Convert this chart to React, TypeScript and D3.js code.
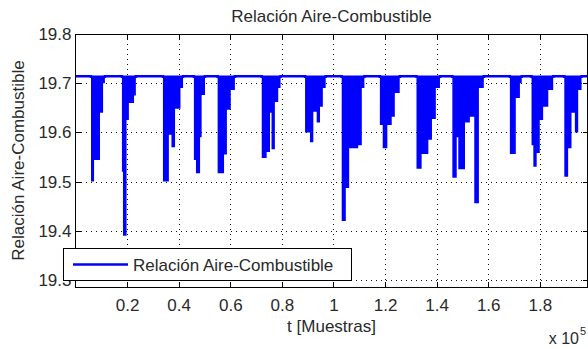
import { useEffect, useRef } from 'react';
import * as d3 from 'd3';

const width = 588;
const height = 349;

// eje x en unidades de 1e5 muestras
const xTicks = [0.2, 0.4, 0.6, 0.8, 1, 1.2, 1.4, 1.6, 1.8];
const yTicks = [19.3, 19.4, 19.5, 19.6, 19.7, 19.8];
const xDomain: [number, number] = [0, 1.985];
const yDomain: [number, number] = [19.2858, 19.8];

const nivelBase = 19.714;

// inicio de cada escalon (x 1e5 muestras) y valor minimo de la relacion en ese tramo
const tiempo = [
  0,
  0.060, 0.072, 0.095, 0.107, 0.114,
  0.180, 0.184, 0.198, 0.207, 0.227, 0.234,
  0.339, 0.362, 0.372, 0.386, 0.407, 0.417,
  0.459, 0.467, 0.483, 0.489, 0.502,
  0.551, 0.576, 0.587, 0.602, 0.618,
  0.722, 0.741, 0.754, 0.760, 0.773, 0.786, 0.795,
  0.890, 0.909, 0.922, 0.935, 0.948, 0.959, 0.970,
  1.032, 1.048, 1.061, 1.096, 1.110, 1.120,
  1.180, 1.191, 1.209, 1.226, 1.238, 1.257,
  1.322, 1.342, 1.368, 1.382, 1.397, 1.413,
  1.461, 1.478, 1.484, 1.510, 1.529, 1.546, 1.564, 1.583,
  1.684, 1.707, 1.723, 1.730,
  1.768, 1.775, 1.788, 1.800, 1.813, 1.833, 1.852,
  1.895, 1.910, 1.923, 1.936, 1.949, 1.962,
  1.985,
];
const relacion = [
  19.714,
  19.50, 19.544, 19.64, 19.70, 19.714,
  19.52, 19.39, 19.625, 19.66, 19.675, 19.714,
  19.50, 19.595, 19.57, 19.648, 19.69, 19.714,
  19.544, 19.517, 19.59, 19.676, 19.714,
  19.517, 19.555, 19.646, 19.686, 19.714,
  19.548, 19.56, 19.64, 19.566, 19.662, 19.69, 19.714,
  19.60, 19.58, 19.642, 19.62, 19.652, 19.69, 19.714,
  19.42, 19.487, 19.568, 19.574, 19.69, 19.714,
  19.615, 19.568, 19.615, 19.632, 19.68, 19.714,
  19.526, 19.556, 19.585, 19.627, 19.69, 19.714,
  19.508, 19.59, 19.525, 19.62, 19.632, 19.456, 19.69, 19.714,
  19.556, 19.67, 19.70, 19.714,
  19.574, 19.53, 19.558, 19.625, 19.652, 19.686, 19.714,
  19.51, 19.568, 19.64, 19.60, 19.686, 19.714,
  19.714,
];

const titulo = 'Relación Aire-Combustible';
const etiquetaY = 'Relación Aire-Combustible';
const etiquetaX = 't [Muestras]';
const leyenda = 'Relación Aire-Combustible';

const fuente = '"Liberation Sans", Arial, Helvetica, sans-serif';
const colorTexto = '#2a2a2a';

type Punto = { t: number; v: number };

const App = () => {
  const chartRef = useRef<SVGSVGElement | null>(null);

  useEffect(() => {
    const svg = d3.select(chartRef.current);
    svg.selectAll('*').remove();

    const left = 75.5, right = 587.5, top = 34, bottom = 287;

    const xScale = d3.scaleLinear().domain(xDomain).range([left, right]);
    const yScale = d3.scaleLinear().domain(yDomain).range([bottom, top]);

    const datos: Punto[] = tiempo.map((t, i) => ({ t, v: relacion[i] }));

    svg.append('rect').attr('width', width).attr('height', height).attr('fill', 'white');

    svg.append('clipPath').attr('id', 'zona')
      .append('rect')
      .attr('x', left).attr('y', top)
      .attr('width', right - left).attr('height', bottom - top);

    // rejilla punteada
    const grid = svg.append('g')
      .attr('stroke', '#111')
      .attr('stroke-width', 1)
      .attr('stroke-dasharray', '1 4')
      .attr('shape-rendering', 'crispEdges');
    grid.selectAll('line.gx').data(xTicks).join('line')
      .attr('class', 'gx')
      .attr('x1', d => Math.round(xScale(d)) + 0.5).attr('x2', d => Math.round(xScale(d)) + 0.5)
      .attr('y1', top).attr('y2', bottom);
    grid.selectAll('line.gy').data(yTicks.filter(d => d < 19.8)).join('line')
      .attr('class', 'gy')
      .attr('y1', d => Math.round(yScale(d)) + 0.5).attr('y2', d => Math.round(yScale(d)) + 0.5)
      .attr('x1', left).attr('x2', right);

    // senal
    const plot = svg.append('g').attr('clip-path', 'url(#zona)');
    plot.append('path')
      .datum(datos)
      .attr('fill', '#0000ff')
      .attr('d', d3.area<Punto>()
        .curve(d3.curveStepAfter)
        .x(d => xScale(d.t))
        .y0(yScale(nivelBase))
        .y1(d => yScale(d.v)));
    plot.append('path')
      .datum(datos)
      .attr('fill', 'none')
      .attr('stroke', '#0000ff')
      .attr('stroke-width', 2.5)
      .attr('d', d3.line<Punto>()
        .curve(d3.curveStepAfter)
        .x(d => xScale(d.t))
        .y(d => yScale(Math.max(d.v, nivelBase - 0.001))));

    // ejes
    const estiloTexto = (g: d3.Selection<SVGGElement, unknown, null, undefined>) => {
      g.select('.domain').remove();
      g.selectAll('text')
        .style('font-size', '17px')
        .style('font-family', fuente)
        .attr('fill', colorTexto);
      g.selectAll('line').attr('stroke', '#000').attr('shape-rendering', 'crispEdges');
    };

    svg.append('g')
      .attr('transform', `translate(0,${bottom})`)
      .call(d3.axisBottom(xScale).tickValues(xTicks).tickSizeInner(-5).tickSizeOuter(0)
        .tickPadding(12).tickFormat(d => String(d)))
      .call(estiloTexto);
    svg.append('g')
      .attr('transform', `translate(0,${top})`)
      .call(d3.axisTop(xScale).tickValues(xTicks).tickSizeInner(-5).tickSizeOuter(0)
        .tickFormat(() => ''))
      .call(estiloTexto);
    svg.append('g')
      .attr('transform', `translate(${left},0)`)
      .call(d3.axisLeft(yScale).tickValues(yTicks).tickSizeInner(-5).tickSizeOuter(0)
        .tickPadding(4).tickFormat(d3.format('.1f')))
      .call(estiloTexto);
    svg.append('g')
      .attr('transform', `translate(${right},0)`)
      .call(d3.axisRight(yScale).tickValues(yTicks).tickSizeInner(-5).tickSizeOuter(0)
        .tickFormat(() => ''))
      .call(estiloTexto);

    svg.append('rect')
      .attr('x', left).attr('y', top)
      .attr('width', right - left).attr('height', bottom - top)
      .attr('fill', 'none').attr('stroke', '#000')
      .attr('shape-rendering', 'crispEdges');

    // textos
    const texto = svg.append('g')
      .style('font-family', fuente)
      .style('font-size', '17px')
      .attr('fill', colorTexto);
    texto.append('text')
      .attr('x', (left + right) / 2).attr('y', 21.5)
      .attr('text-anchor', 'middle')
      .text(titulo);
    texto.append('text')
      .attr('transform', `translate(24,${(top + bottom) / 2}) rotate(-90)`)
      .attr('text-anchor', 'middle')
      .text(etiquetaY);
    texto.append('text')
      .attr('x', (left + right) / 2).attr('y', 332)
      .attr('text-anchor', 'middle')
      .text(etiquetaX);
    texto.append('text')
      .attr('x', 579).attr('y', 344)
      .attr('text-anchor', 'end')
      .style('font-size', '16px')
      .text('x 10');
    texto.append('text')
      .attr('x', 580).attr('y', 335)
      .style('font-size', '11px')
      .text('5');

    // leyenda
    const ley = svg.append('g');
    ley.append('rect')
      .attr('x', 63.5).attr('y', 248.5)
      .attr('width', 288).attr('height', 32)
      .attr('fill', 'white').attr('stroke', '#000')
      .attr('shape-rendering', 'crispEdges');
    ley.append('line')
      .attr('x1', 73).attr('x2', 128)
      .attr('y1', 264.5).attr('y2', 264.5)
      .attr('stroke', '#0000ff').attr('stroke-width', 2.5);
    ley.append('text')
      .attr('x', 133).attr('y', 271)
      .style('font-family', fuente)
      .style('font-size', '17px')
      .attr('fill', colorTexto)
      .text(leyenda);
  }, []);

  return (
    <svg ref={chartRef} width={width} height={height}
      style={{ position: 'absolute', left: 0, top: 0, display: 'block' }} />
  );
};

export default App;
